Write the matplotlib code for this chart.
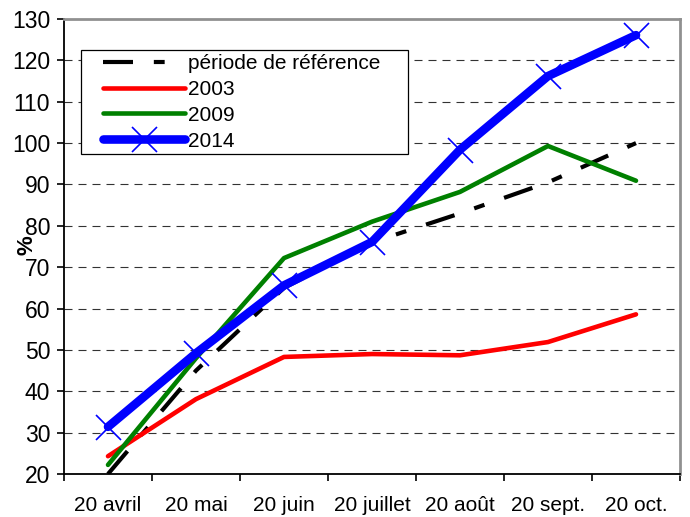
import numpy as np
import matplotlib
matplotlib.use("Agg")
import matplotlib.pyplot as plt
from matplotlib.patches import Rectangle

plt.rcParams['font.family'] = ['Liberation Sans', 'DejaVu Sans']

# categories and series values
dates = ['20 avril', '20 mai', '20 juin', '20 juillet', '20 août', '20 sept.', '20 oct.']
reference = [20.0, 45.0, 65.0, 76.0, 83.0, 90.5, 100.0]
y2003 = [24.3, 38.1, 48.3, 49.0, 48.7, 51.9, 58.6]
y2009 = [22.2, 48.0, 72.2, 81.0, 88.2, 99.3, 90.9]
y2014 = [31.4, 49.2, 65.6, 76.1, 98.4, 116.2, 126.1]

W, H = 690, 517
x = np.arange(len(dates))

fig = plt.figure(figsize=(W / 100, H / 100), dpi=100)
ax = fig.add_axes([64 / W, 1 - 474 / H, (680 - 64) / W, (474 - 19) / H])

ax.plot(x, reference, color='black', lw=3.0, dashes=(7.2, 5.0, 2.6, 5.0),
        label='période de référence', zorder=3)
ax.plot(x, y2003, color='#ff0000', lw=3.3, solid_capstyle='round',
        label='2003', zorder=3)
ax.plot(x, y2009, color='#008000', lw=3.3, solid_capstyle='round',
        label='2009', zorder=3)
ax.plot(x, y2014, color='#0000ff', lw=6.2, solid_capstyle='round',
        marker='x', markersize=18, markeredgewidth=1.2, label='2014', zorder=4)

ax.set_xlim(-0.5, len(dates) - 0.5)
ax.set_ylim(20, 130)
ax.set_yticks(np.arange(20, 131, 10))
ax.set_xticks(x)
ax.set_xticklabels(dates, fontsize=15)
ax.set_xticks(np.arange(-0.5, len(dates)), minor=True)
ax.tick_params(axis='x', which='major', length=0, pad=16)
ax.tick_params(axis='x', which='minor', length=5, width=1.2, direction='out')
ax.tick_params(axis='y', labelsize=16.5, length=5, width=1.2, direction='out', pad=5)

for yv in range(30, 130, 10):
    ax.axhline(yv, color='#333333', lw=0.8, dashes=(7.2, 5.4), zorder=1)

ax.spines['left'].set_linewidth(1.3)
ax.spines['bottom'].set_linewidth(1.3)
for side in ['top', 'right']:
    ax.spines[side].set_color('#909090')
    ax.spines[side].set_linewidth(2)

fig.text(27 / W, 1 - 245 / H, '%', rotation=90, fontsize=16, fontweight='bold',
         ha='center', va='center')

# legend box drawn as a plain rectangle, legend itself frameless on top of it
ax.add_patch(Rectangle((81 / W, 1 - 154 / H), (408 - 81) / W, (154 - 50) / H,
                       transform=fig.transFigure, facecolor='white',
                       edgecolor='black', lw=0.9, zorder=5, clip_on=False))
leg = ax.legend(loc='upper left', bbox_to_anchor=(103 / W, 1 - 54 / H),
                bbox_transform=fig.transFigure, borderaxespad=0, borderpad=0,
                fontsize=15, handlelength=3.95, handletextpad=0.12,
                labelspacing=0.33, numpoints=1, frameon=False)
leg.set_zorder(6)

fig.savefig('out.png', dpi=100)
